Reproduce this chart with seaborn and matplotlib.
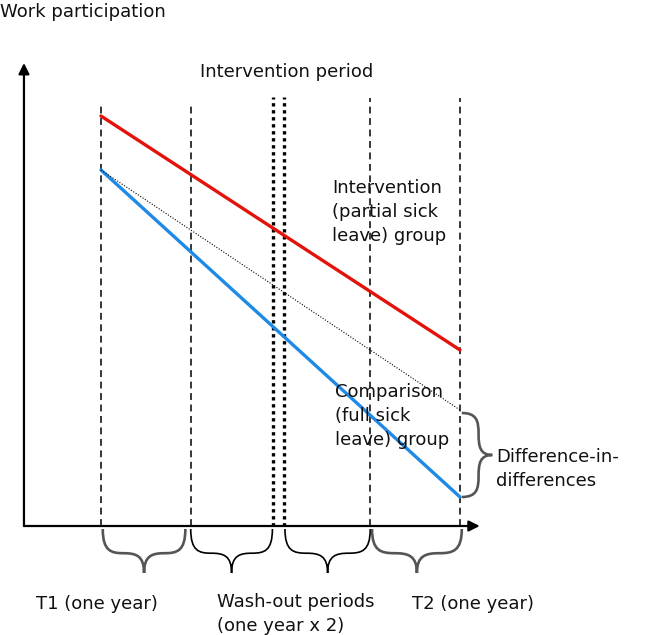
import numpy as np
import pandas as pd
import seaborn as sns
import matplotlib.pyplot as plt
from matplotlib.path import Path
from matplotlib.patches import PathPatch

# Datos del diagrama (años desde el inicio de T1, participación en unidades arbitrarias)
time = [0.0, 4.0]
intervention_group = [4.10, 1.76]
comparison_group = [3.56, 0.29]
counterfactual = [3.56, 1.16]

dashed_x = [0.0, 1.0, 3.0, 4.0]
dashed_top = [4.20, 4.20, 4.28, 4.28]
intervention_x = [1.92, 2.04]
intervention_top = 4.29

brace_spans = [(0.02, 0.94), (1.0, 1.91), (2.05, 3.0), (3.02, 4.02)]
brace_colors = ["#555555", "black", "black", "#555555"]
period_labels = ["T1 (one year)", "Wash-out periods\n(one year x 2)", "T2 (one year)"]

sns.set_theme(style="white")
plt.rcParams['font.family'] = ['DejaVu Sans']

fig = plt.figure(figsize=(6.5, 6.35), dpi=100)
ax = fig.add_axes([0, 0, 1, 1])

# ejes con flechas
ax_x0 = -0.858
arrow = dict(arrowstyle='-|>', mutation_scale=16, lw=1.6, color='black', shrinkA=0, shrinkB=0)
ax.annotate('', xy=(ax_x0, 4.63), xytext=(ax_x0, 0), arrowprops=arrow)
ax.annotate('', xy=(4.22, 0), xytext=(ax_x0, 0), arrowprops=arrow)

# líneas verticales
ax.vlines(dashed_x, 0, dashed_top, colors='black', lw=1.1, linestyles=[(0, (4.5, 3))])
ax.vlines(intervention_x, 0, intervention_top, colors='black', lw=2.4, linestyles=[(0, (1, 1.1))])

# grupos
df = pd.DataFrame({
    "time": time * 3,
    "value": intervention_group + comparison_group + counterfactual,
    "group": ["int"] * 2 + ["comp"] * 2 + ["cf"] * 2,
})
sns.lineplot(data=df[df.group == "int"], x="time", y="value", color="#e3120b", lw=2.4, ax=ax, legend=False)
sns.lineplot(data=df[df.group == "comp"], x="time", y="value", color="#1e8ae6", lw=2.4, ax=ax, legend=False)
sns.lineplot(data=df[df.group == "cf"], x="time", y="value", color="black", lw=0.8,
             linestyle=(0, (1, 1.5)), ax=ax, legend=False)
ax.set_xlim(-1.125, 6.117)
ax.set_ylim(-1.09, 5.26)
ax.axis('off')


def brace(p0, p1, depth, color, lw):
    p0, p1, depth = np.array(p0), np.array(p1), np.array(depth)
    uv = [(0, 0), (0, 0.5), (0.1, 0.55), (0.25, 0.55), (0.4, 0.55), (0.5, 0.6), (0.5, 1),
          (0.5, 0.6), (0.6, 0.55), (0.75, 0.55), (0.9, 0.55), (1, 0.5), (1, 0)]
    verts = [p0 + u * (p1 - p0) + v * depth for u, v in uv]
    codes = [Path.MOVETO] + [Path.CURVE4] * 12
    ax.add_patch(PathPatch(Path(verts, codes), fc='none', ec=color, lw=lw))


for (a, b), c in zip(brace_spans, brace_colors):
    brace((a, -0.03), (b, -0.03), (0, -0.44), c, 1.9 if c != "black" else 1.2)
brace((4.02, 1.13), (4.02, 0.29), (0.34, 0), "#555555", 1.9)

# textos (posiciones en fracción de la figura)
W, H = 650, 635
def label(x, y, s, va='center'):
    ax.text(x / W, 1 - y / H, s, transform=ax.transAxes, fontsize=13, ha='left', va=va,
            color='#111111', linespacing=1.4)

label(0, 12, "Work participation")
label(200, 72, "Intervention period")
label(332, 212, "Intervention\n(partial sick\nleave) group")
label(335, 416, "Comparison\n(full sick\nleave) group")
label(496, 469, "Difference-in-\ndifferences")
label(36, 604, period_labels[0])
label(217, 593, period_labels[1], va='top')
label(412, 604, period_labels[2])

fig.savefig("out.png", dpi=100)
